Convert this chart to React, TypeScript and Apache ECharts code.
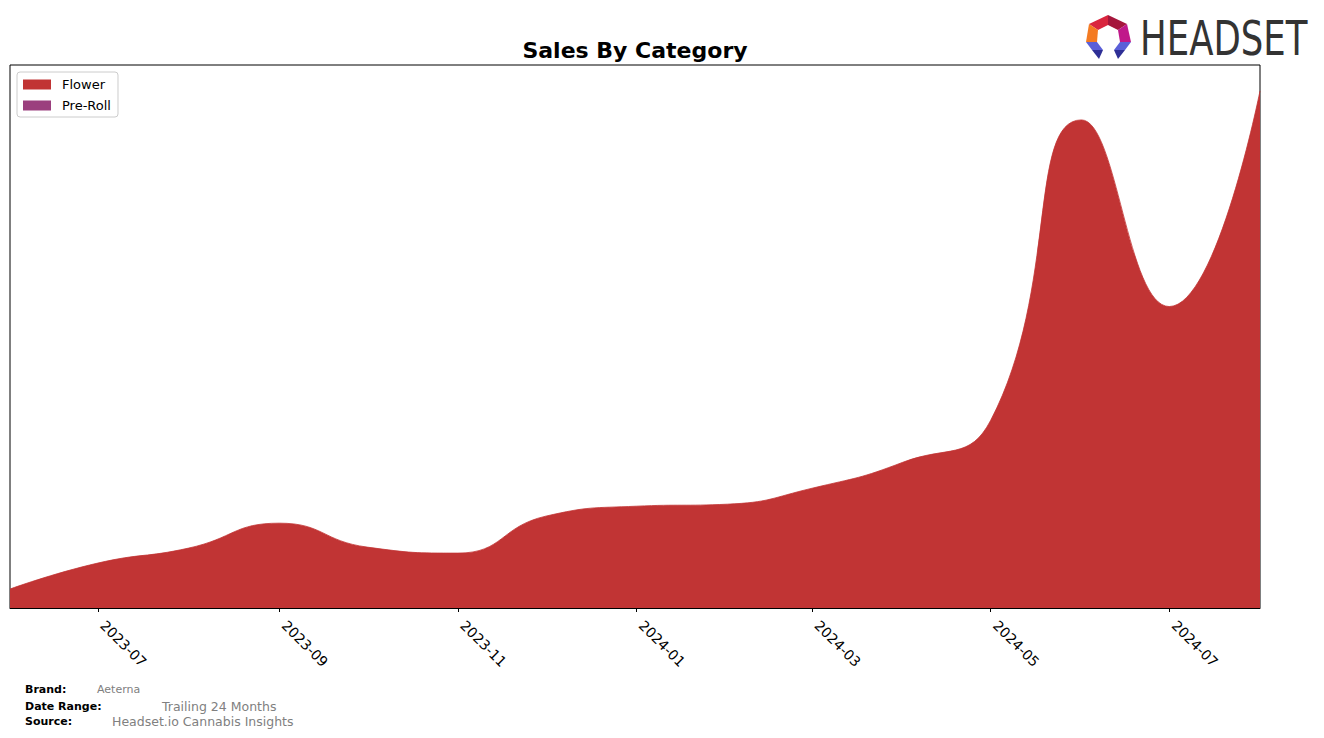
import React, { useEffect, useRef } from "react";
import * as echarts from "echarts";

const months = [
  "2023-06-01", "2023-07-01", "2023-08-01", "2023-09-01", "2023-10-01",
  "2023-11-01", "2023-12-01", "2024-01-01", "2024-02-01", "2024-03-01",
  "2024-04-01", "2024-05-01", "2024-06-01", "2024-07-01", "2024-08-01",
];
const flower = [19, 45, 60, 85, 61, 55, 92, 102, 104, 120, 146, 188, 489, 302, 518];
const preRoll = [3.5, 3.5, 3.5, 3.5, 3.5, 3.5, 3.5, 1.2, 0.6, 0.4, 0.3, 0.3, 0.3, 0.3, 0.3];
const tickMonths = ["2023-07-01", "2023-09-01", "2023-11-01", "2024-01-01", "2024-03-01", "2024-05-01", "2024-07-01"];

const FLOWER_COLOR = "#c13434";
const PREROLL_COLOR = "#9b3f7e";

function ts(s: string): number {
  const [y, m, d] = s.split("-").map(Number);
  return Date.UTC(y, m - 1, d);
}

export default function App() {
  const ref = useRef<HTMLDivElement>(null);
  useEffect(() => {
    document.body.style.margin = "0";
    if (!ref.current) return;
    const chart = echarts.init(ref.current, undefined, { renderer: "svg" });
    const font = "DejaVu Sans";
    const option: any = {
      animation: false,
      backgroundColor: "#fff",
      textStyle: { fontFamily: font },
      grid: {
        left: 10, right: 64, top: 65, bottom: 130,
        show: true, borderColor: "#000", borderWidth: 1,
      },
      legend: {
        orient: "vertical",
        left: 17, top: 72,
        padding: [6, 7, 5, 6],
        itemWidth: 28, itemHeight: 10, itemGap: 8,
        borderColor: "#ccc", borderWidth: 1, borderRadius: 3,
        icon: "rect",
        textStyle: { fontSize: 13, color: "#000", fontFamily: font, padding: [0, 0, 0, 6] },
        data: ["Flower", "Pre-Roll"],
      },
      xAxis: {
        type: "value",
        min: ts(months[0]),
        max: ts(months[months.length - 1]),
        axisLine: { show: true, lineStyle: { color: "#000", width: 1 } },
        axisTick: {
          show: true, length: 4, lineStyle: { color: "#000" },
          customValues: tickMonths.map(ts),
        },
        axisLabel: {
          customValues: tickMonths.map(ts),
          rotate: -45,
          margin: 10,
          padding: [0, 0, 0, 7],
          fontSize: 14,
          color: "#000",
          fontFamily: font,
          formatter: (v: number) => {
            const d = new Date(v);
            return d.getUTCFullYear() + "-" + String(d.getUTCMonth() + 1).padStart(2, "0");
          },
        },
        splitLine: { show: false },
      },
      yAxis: {
        type: "value",
        min: 0,
        max: 544,
        show: false,
        splitLine: { show: false },
      },
      series: [
        {
          name: "Flower",
          type: "line",
          stack: "total",
          smooth: true,
          showSymbol: false,
          color: FLOWER_COLOR,
          lineStyle: { width: 0.8, color: FLOWER_COLOR },
          areaStyle: { color: FLOWER_COLOR, opacity: 1 },
          data: months.map((m, i) => [ts(m), flower[i]]),
        },
        {
          name: "Pre-Roll",
          type: "line",
          stack: "total",
          smooth: true,
          showSymbol: false,
          color: PREROLL_COLOR,
          lineStyle: { width: 1, color: PREROLL_COLOR },
          areaStyle: { color: PREROLL_COLOR, opacity: 1 },
          data: months.map((m, i) => [ts(m), preRoll[i]]),
        },
      ],
      graphic: [
        {
          type: "text", x: 635, y: 50,
          style: {
            text: "Sales By Category", fontSize: 22, fontWeight: "bold",
            fontFamily: font, fill: "#000", textAlign: "center", textVerticalAlign: "middle",
          },
        },
        { type: "polygon", shape: { points: [[1089, 24], [1108, 15], [1108, 25], [1098, 30]] }, style: { fill: "#d9253e" } },
        { type: "polygon", shape: { points: [[1108, 15], [1127, 24], [1118, 30], [1108, 25]] }, style: { fill: "#a5163c" } },
        { type: "polygon", shape: { points: [[1089, 24], [1086, 42], [1097, 42], [1098, 30]] }, style: { fill: "#f47b22" } },
        { type: "polygon", shape: { points: [[1127, 24], [1131, 42], [1120, 42], [1118, 30]] }, style: { fill: "#c0198a" } },
        { type: "polygon", shape: { points: [[1086, 42], [1097, 42], [1103, 50], [1092, 50]] }, style: { fill: "#5a5fd8" } },
        { type: "polygon", shape: { points: [[1092, 50], [1103, 50], [1099, 59]] }, style: { fill: "#2e2f96" } },
        { type: "polygon", shape: { points: [[1131, 42], [1120, 42], [1114, 50], [1125, 50]] }, style: { fill: "#5a5fd8" } },
        { type: "polygon", shape: { points: [[1125, 50], [1114, 50], [1118, 59]] }, style: { fill: "#2e2f96" } },
        {
          type: "text", x: 1140, y: 39, scaleX: 0.74,
          style: {
            text: "HEADSET", fontSize: 48, fontFamily: font,
            fill: "#333", textAlign: "left", textVerticalAlign: "middle",
          },
        },
        { type: "text", x: 25, y: 689, style: { text: "Brand:", fontSize: 11, fontWeight: "bold", fontFamily: font, fill: "#000", textVerticalAlign: "middle" } },
        { type: "text", x: 97, y: 689, style: { text: "Aeterna", fontSize: 11, fontFamily: font, fill: "#808080", textVerticalAlign: "middle" } },
        { type: "text", x: 25, y: 706, style: { text: "Date Range:", fontSize: 11, fontWeight: "bold", fontFamily: font, fill: "#000", textVerticalAlign: "middle" } },
        { type: "text", x: 162, y: 706, style: { text: "Trailing 24 Months", fontSize: 12.5, fontFamily: font, fill: "#808080", textVerticalAlign: "middle" } },
        { type: "text", x: 25, y: 721, style: { text: "Source:", fontSize: 11, fontWeight: "bold", fontFamily: font, fill: "#000", textVerticalAlign: "middle" } },
        { type: "text", x: 112, y: 721, style: { text: "Headset.io Cannabis Insights", fontSize: 12.5, fontFamily: font, fill: "#808080", textVerticalAlign: "middle" } },
      ],
    };
    chart.setOption(option);
    return () => chart.dispose();
  }, []);
  return <div ref={ref} style={{ width: 1324, height: 738 }} />;
}
